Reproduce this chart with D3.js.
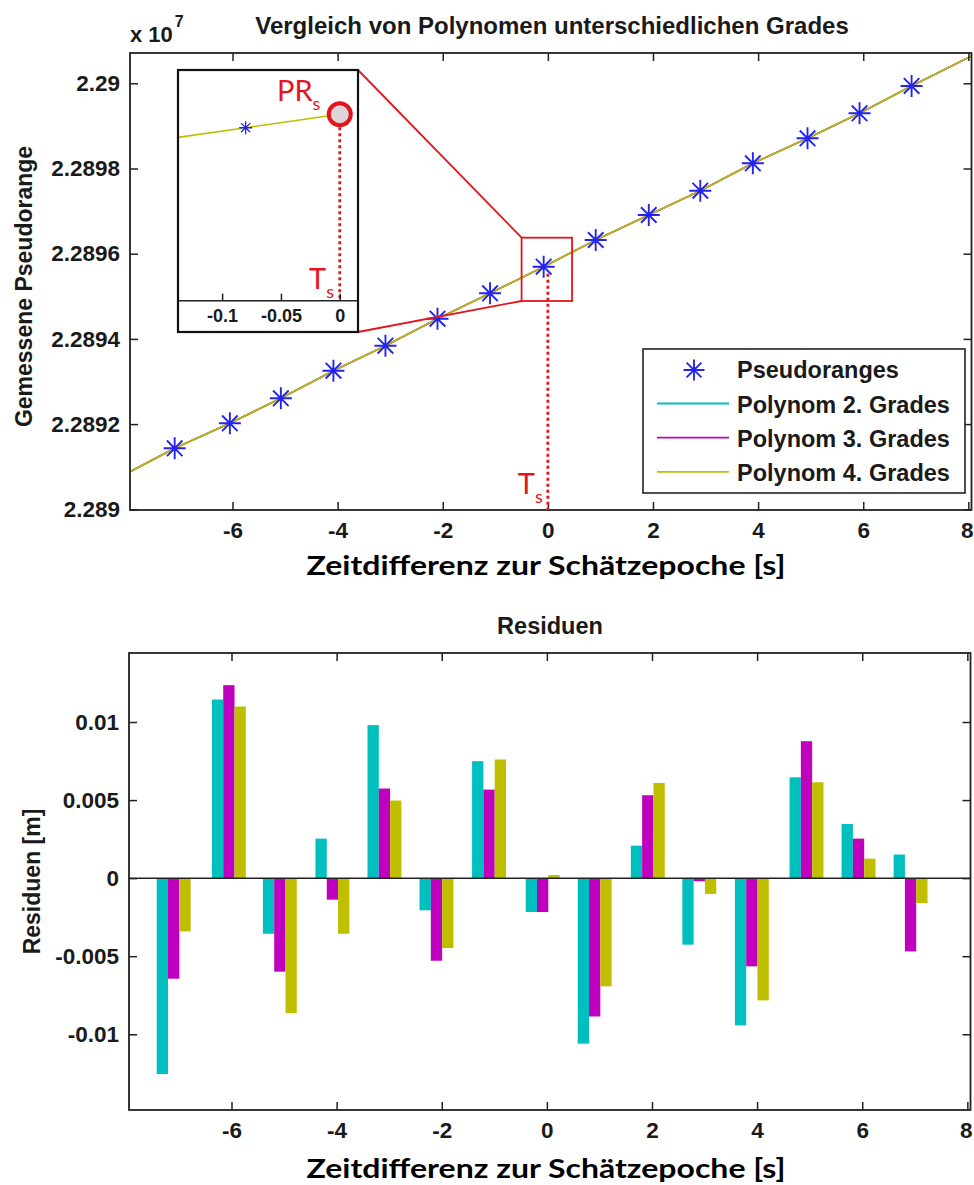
<!DOCTYPE html>
<html>
<head>
<meta charset="utf-8">
<script src="https://cdn.jsdelivr.net/npm/d3@7"></script>
<style>
  body { margin: 0; background: #fff; }
  svg { display: block; }
  text { font-family: "Liberation Sans", Arial, sans-serif; font-weight: bold; fill: #1a1a1a; }
  .lbl { font-family: Lato, "Open Sans", sans-serif; font-weight: bold; fill: #000; }
  .red { font-family: Lato, "Open Sans", sans-serif; font-weight: normal; fill: #e3141c; }
</style>
</head>
<body>
<div id="chart"></div>
<script>
// epochs relative to the estimation epoch [s]
const epochs = [-7.1, -6.05, -5.08, -4.08, -3.09, -2.1, -1.1, -0.08, 0.91, 1.92, 2.9, 3.9, 4.94, 5.93, 6.92];
// measured pseudoranges [m]
const pseudoranges = [22891432, 22892019, 22892606, 22893254, 22893840, 22894474, 22895070, 22895695,
                      22896322, 22896908, 22897479, 22898122, 22898709, 22899296, 22899937];
// residuals [m] of the three polynomial fits
const res2 = [-0.01255, 0.01144, -0.00356, 0.00253, 0.0098, -0.00206, 0.00749, -0.00217, -0.0106, 0.00208, -0.00426, -0.00943, 0.00646, 0.00347, 0.00151];
const res3 = [-0.00644, 0.01236, -0.00599, -0.00138, 0.00574, -0.00529, 0.00567, -0.00217, -0.00886, 0.00531, -0.0002, -0.00565, 0.00877, 0.00253, -0.00469];
const res4 = [-0.00341, 0.01099, -0.00864, -0.00356, 0.00497, -0.00448, 0.0076, 0.0002, -0.00693, 0.0061, -0.00101, -0.00783, 0.00614, 0.00125, -0.00159];
const seriesNames = ["Polynom 2. Grades", "Polynom 3. Grades", "Polynom 4. Grades"];
const seriesColors = ["#00bfbf", "#bf00bf", "#bfbf00"];
// where the fitted curves leave the axes
const fitEnds = [[-7.95, 22890883], [8.06, 22900641]];
// estimated pseudorange at the estimation epoch
const epochS = 0, prS = 22895738;

const xTicks = [-6, -4, -2, 0, 2, 4, 6, 8];
const prTicks = [22890000, 22892000, 22894000, 22896000, 22898000, 22900000];
const resTicks = [-0.01, -0.005, 0, 0.005, 0.01];
const insetTicks = [-0.1, -0.05, 0];

const width = 974, height = 1185;
const residuals = [res2, res3, res4];

var svg = d3.select("#chart").append("svg")
  .attr("width", width)
  .attr("height", height);

// top plot
var top1 = {left: 130, right: 971.5, top: 53, bottom: 510};
var x1 = d3.scaleLinear().domain([-7.95, 8.06]).range([top1.left, top1.right]);
var y1 = d3.scaleLinear().domain([22889984, 22900711]).range([top1.bottom, top1.top]);

// bottom plot
var bot = {left: 129, right: 970.5, top: 653, bottom: 1110};
var x2 = d3.scaleLinear().domain([-7.95, 8.06]).range([bot.left, bot.right]);
var y2 = d3.scaleLinear().domain([-0.01485, 0.01442]).range([bot.bottom, bot.top]);

function asterisk(r) {
  var d = r * Math.SQRT1_2;
  return "M" + (-r) + ",0H" + r + "M0," + (-r) + "V" + r +
    "M" + (-d) + "," + (-d) + "L" + d + "," + d + "M" + (-d) + "," + d + "L" + d + "," + (-d);
}

function drawFrame(g, box, x, y, yTickVals, yFmt) {
  g.append("g")
    .attr("transform", "translate(0," + box.bottom + ")")
    .call(d3.axisBottom(x).tickValues(xTicks).tickSize(-8).tickSizeOuter(0).tickPadding(12).tickFormat(d => String(d)))
    .call(a => a.selectAll(".tick text").filter(d => d === 8).attr("dx", -1.5));
  g.append("g")
    .attr("transform", "translate(0," + box.top + ")")
    .call(d3.axisTop(x).tickValues(xTicks).tickSize(-8).tickSizeOuter(0).tickFormat(""));
  g.append("g")
    .attr("transform", "translate(" + box.left + ",0)")
    .call(d3.axisLeft(y).tickValues(yTickVals).tickSize(-8).tickSizeOuter(0).tickPadding(10).tickFormat(yFmt));
  g.append("g")
    .attr("transform", "translate(" + box.right + ",0)")
    .call(d3.axisRight(y).tickValues(yTickVals).tickSize(-8).tickSizeOuter(0).tickFormat(""));
  g.selectAll(".domain").remove();
  g.selectAll(".tick line").attr("stroke", "#222").attr("stroke-width", 1.5);
  g.selectAll(".tick text").attr("fill", "#1a1a1a").attr("font-family", null).attr("font-size", null)
    .style("font-size", "22.5px");
  g.append("rect")
    .attr("x", box.left).attr("y", box.top)
    .attr("width", box.right - box.left).attr("height", box.bottom - box.top)
    .attr("fill", "none").attr("stroke", "#222").attr("stroke-width", 1.8);
}

// ---------- top plot ----------
var g1 = svg.append("g");
svg.append("clipPath").attr("id", "clip1").append("rect")
  .attr("x", top1.left).attr("y", top1.top)
  .attr("width", top1.right - top1.left).attr("height", top1.bottom - top1.top);

var line1 = d3.line().x(d => x1(d[0])).y(d => y1(d[1]));
var plotArea = g1.append("g").attr("clip-path", "url(#clip1)");
residuals.forEach(function(res, k) {
  var pts = [fitEnds[0]].concat(epochs.map((t, i) => [t, pseudoranges[i] - res[i]]), [fitEnds[1]]);
  plotArea.append("path")
    .datum(pts)
    .attr("d", line1)
    .attr("fill", "none")
    .attr("stroke", seriesColors[k])
    .attr("stroke-width", 1.6);
});

plotArea.selectAll("path.star")
  .data(epochs)
  .enter()
  .append("path")
    .attr("class", "star")
    .attr("transform", (d, i) => "translate(" + x1(d) + "," + y1(pseudoranges[i]) + ")")
    .attr("d", asterisk(11))
    .attr("stroke", "#2424f0")
    .attr("stroke-width", 1.9)
    .attr("fill", "none");

drawFrame(g1, top1, x1, y1, prTicks, d => String(+(d / 1e7).toFixed(4)));

// red dotted line at T_s
g1.append("line")
  .attr("x1", x1(epochS)).attr("x2", x1(epochS))
  .attr("y1", y1(pseudoranges[7]) + 7).attr("y2", top1.bottom)
  .attr("stroke", "#e3141c").attr("stroke-width", 2.8).attr("stroke-dasharray", "3,3");
var ts1 = g1.append("text").attr("class", "red")
  .attr("x", x1(epochS) - 30).attr("y", top1.bottom - 16).style("font-size", "29px");
ts1.append("tspan").text("T");
ts1.append("tspan").attr("dy", 9).style("font-size", "18px").text("s");

// zoom box around the estimation epoch
var zoomBox = {x0: -0.5, x1: 0.46, v0: 22894890, v1: 22896376};
var inset = {left: 178, right: 358, top: 70, bottom: 332};
g1.append("rect")
  .attr("x", x1(zoomBox.x0)).attr("y", y1(zoomBox.v1))
  .attr("width", x1(zoomBox.x1) - x1(zoomBox.x0)).attr("height", y1(zoomBox.v0) - y1(zoomBox.v1))
  .attr("fill", "none").attr("stroke", "#e3141c").attr("stroke-width", 1.8);
g1.append("line")
  .attr("x1", inset.right).attr("y1", inset.top)
  .attr("x2", x1(zoomBox.x0)).attr("y2", y1(zoomBox.v1))
  .attr("stroke", "#e3141c").attr("stroke-width", 1.8);
g1.append("line")
  .attr("x1", inset.right).attr("y1", inset.bottom)
  .attr("x2", x1(zoomBox.x0)).attr("y2", y1(zoomBox.v0))
  .attr("stroke", "#e3141c").attr("stroke-width", 1.8);

// ---------- inset ----------
var gi = svg.append("g");
var xi = d3.scaleLinear().domain([-0.1375, 0.0155]).range([inset.left, inset.right]);
var yi = d3.scaleLinear().domain([22895044, 22895879]).range([inset.bottom, inset.top]);
var insetAxisY = 300.7;
gi.append("rect")
  .attr("x", inset.left).attr("y", inset.top)
  .attr("width", inset.right - inset.left).attr("height", inset.bottom - inset.top)
  .attr("fill", "#fff");
svg.append("clipPath").attr("id", "clipi").append("rect")
  .attr("x", inset.left).attr("y", inset.top)
  .attr("width", inset.right - inset.left).attr("height", insetAxisY - inset.top);
var gic = gi.append("g").attr("clip-path", "url(#clipi)");
var lineI = d3.line().x(d => xi(d[0])).y(d => yi(d[1]));
var slope = (prS - pseudoranges[7]) / (epochS - epochs[7]);
gic.append("path")
  .datum([[xi.domain()[0], pseudoranges[7] + slope * (xi.domain()[0] - epochs[7])], [epochs[7], pseudoranges[7]], [epochS, prS]])
  .attr("d", lineI)
  .attr("fill", "none").attr("stroke", seriesColors[2]).attr("stroke-width", 1.6);
gic.append("path")
  .attr("transform", "translate(" + xi(epochs[7]) + "," + yi(pseudoranges[7]) + ")")
  .attr("d", asterisk(6.5))
  .attr("stroke", "#2424f0").attr("stroke-width", 1.3).attr("fill", "none");
gic.append("line")
  .attr("x1", xi(epochS)).attr("x2", xi(epochS))
  .attr("y1", yi(prS) + 13).attr("y2", insetAxisY)
  .attr("stroke", "#e3141c").attr("stroke-width", 2.8).attr("stroke-dasharray", "3,3");
gi.append("circle")
  .attr("cx", xi(epochS)).attr("cy", yi(prS)).attr("r", 11)
  .attr("fill", "#ddd5d8").attr("stroke", "#e3141c").attr("stroke-width", 4);

gi.append("g")
  .attr("transform", "translate(0," + insetAxisY + ")")
  .call(d3.axisBottom(xi).tickValues(insetTicks).tickSize(-7).tickSizeOuter(0).tickPadding(9).tickFormat(d => String(d)))
  .call(a => a.select(".domain").remove())
  .call(a => a.selectAll(".tick line").attr("stroke", "#222").attr("stroke-width", 1.5))
  .call(a => a.selectAll(".tick text").attr("fill", "#1a1a1a").attr("font-family", null).attr("font-size", null).style("font-size", "18px"));
gi.append("line")
  .attr("x1", inset.left).attr("x2", inset.right)
  .attr("y1", insetAxisY).attr("y2", insetAxisY)
  .attr("stroke", "#222").attr("stroke-width", 1.6);
gi.append("rect")
  .attr("x", inset.left).attr("y", inset.top)
  .attr("width", inset.right - inset.left).attr("height", inset.bottom - inset.top)
  .attr("fill", "none").attr("stroke", "#111").attr("stroke-width", 2.2);

var prl = gi.append("text").attr("class", "red")
  .attr("x", 277).attr("y", 101).style("font-size", "29px");
prl.append("tspan").text("PR");
prl.append("tspan").attr("dy", 9).style("font-size", "18px").text("s");
var tsi = gi.append("text").attr("class", "red")
  .attr("x", 309).attr("y", 289).style("font-size", "29px");
tsi.append("tspan").text("T");
tsi.append("tspan").attr("dy", 9).style("font-size", "18px").text("s");

// legend
var leg = svg.append("g");
leg.append("rect")
  .attr("x", 643).attr("y", 349).attr("width", 322).attr("height", 144)
  .attr("fill", "#fff").attr("stroke", "#222").attr("stroke-width", 1.6);
leg.append("path")
  .attr("transform", "translate(694,370)")
  .attr("d", asterisk(10.5))
  .attr("stroke", "#2424f0").attr("stroke-width", 1.9).attr("fill", "none");
leg.append("text").attr("x", 737).attr("y", 378).style("font-size", "23.5px").text("Pseudoranges");
seriesNames.forEach(function(name, k) {
  var yy = 403.5 + k * 34.2;
  leg.append("line")
    .attr("x1", 657).attr("x2", 729).attr("y1", yy).attr("y2", yy)
    .attr("stroke", seriesColors[k]).attr("stroke-width", 1.8);
  leg.append("text").attr("x", 737).attr("y", yy + 9).style("font-size", "23.5px").text(name);
});

// titles and labels, top plot
svg.append("text").attr("x", 552).attr("y", 34).attr("text-anchor", "middle")
  .style("font-size", "24px").text("Vergleich von Polynomen unterschiedlichen Grades");
var mult = svg.append("text").attr("x", 130).attr("y", 42).style("font-size", "22px");
mult.append("tspan").text("x 10");
mult.append("tspan").attr("dx", 2).attr("dy", -15).style("font-size", "16px").text("7");
svg.append("text")
  .attr("transform", "translate(32," + ((top1.top + top1.bottom) / 2 + 5) + ") rotate(-90)")
  .attr("text-anchor", "middle").style("font-size", "23px").text("Gemessene Pseudorange");
svg.append("text").attr("class", "lbl")
  .attr("x", 546).attr("y", 575).attr("text-anchor", "middle")
  .attr("textLength", 479).attr("lengthAdjust", "spacingAndGlyphs")
  .style("font-size", "26px").text("Zeitdifferenz zur Schätzepoche [s]");

// ---------- bottom plot: residuals ----------
var g2 = svg.append("g");
var barW = 0.215;
residuals.forEach(function(res, k) {
  g2.append("g")
    .selectAll("rect")
    .data(epochs.map((t, i) => [t, res[i]]))
    .enter()
    .append("rect")
      .attr("x", d => x2(d[0] + (k - 1.5) * barW))
      .attr("width", x2(barW) - x2(0))
      .attr("y", d => y2(Math.max(0, d[1])))
      .attr("height", d => Math.abs(y2(d[1]) - y2(0)))
      .attr("fill", seriesColors[k]);
});
g2.append("line")
  .attr("x1", bot.left).attr("x2", bot.right)
  .attr("y1", y2(0)).attr("y2", y2(0))
  .attr("stroke", "#222").attr("stroke-width", 1.5);
drawFrame(g2, bot, x2, y2, resTicks, d => String(d));

svg.append("text").attr("x", 550).attr("y", 634).attr("text-anchor", "middle")
  .style("font-size", "23.5px").text("Residuen");
svg.append("text")
  .attr("transform", "translate(40," + ((bot.top + bot.bottom) / 2) + ") rotate(-90)")
  .attr("text-anchor", "middle").style("font-size", "23px").text("Residuen [m]");
svg.append("text").attr("class", "lbl")
  .attr("x", 546).attr("y", 1178).attr("text-anchor", "middle")
  .attr("textLength", 479).attr("lengthAdjust", "spacingAndGlyphs")
  .style("font-size", "26px").text("Zeitdifferenz zur Schätzepoche [s]");
</script>
</body>
</html>
